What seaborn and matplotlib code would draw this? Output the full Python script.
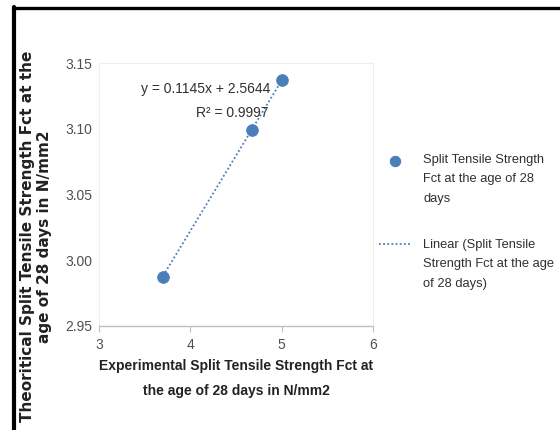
import numpy as np
import pandas as pd
import seaborn as sns
import matplotlib.pyplot as plt
from matplotlib.lines import Line2D

# data
exp_fct = [3.70, 4.67, 5.00]
theo_fct = [2.987, 3.099, 3.137]
slope = 0.1145
intercept = 2.5644
x_ticks = [3, 4, 5, 6]
y_ticks = [2.95, 3.00, 3.05, 3.10, 3.15]

df = pd.DataFrame({"exp": exp_fct, "theo": theo_fct})

sns.set_style("white")
plt.rcParams["font.family"] = ["Liberation Sans", "DejaVu Sans"]

fig = plt.figure(figsize=(5.6, 4.3), dpi=100)
ax = fig.add_axes([0.177, 0.242, 0.489, 0.611])

blue = "#4a7ebb"
# trendline over the data range
xt = np.array([min(exp_fct), max(exp_fct)])
ax.plot(xt, slope * xt + intercept, ls=(0, (1, 1.3)), color=blue, lw=1.3,
        label="Linear (Split Tensile\nStrength Fct at the age\nof 28 days)")
sns.scatterplot(data=df, x="exp", y="theo", ax=ax, color=blue, s=70,
                edgecolor=blue, zorder=3,
                label="Split Tensile Strength\nFct at the age of 28\ndays")

ax.set_xlim(3, 6)
ax.set_ylim(2.95, 3.15)
ax.set_xticks(x_ticks)
ax.set_yticks(y_ticks)
ax.set_xticklabels([str(t) for t in x_ticks])
ax.set_yticklabels(["%.2f" % t for t in y_ticks])
ax.tick_params(axis="both", labelsize=10, colors="#505050")
ax.tick_params(axis="x", length=4, color="#c0c0c0", direction="out",
               bottom=True, pad=5)
ax.tick_params(axis="y", length=0, pad=5)

for s in ["top", "right", "left"]:
    ax.spines[s].set_color("#eeeeee")
    ax.spines[s].set_linewidth(0.8)
ax.spines["bottom"].set_color("#bfbfbf")
ax.spines["bottom"].set_linewidth(1.0)

ax.text(3.46, 3.130, "y = 0.1145x + 2.5644", fontsize=10, color="#303030",
        ha="left", va="center")
ax.text(4.06, 3.112, "R² = 0.9997", fontsize=10, color="#303030",
        ha="left", va="center")

ax.set_xlabel("Experimental Split Tensile Strength Fct at\nthe age of 28 days in N/mm2",
              fontsize=10, fontweight="bold", color="#222222", labelpad=5,
              linespacing=2.0)
ax.set_ylabel("Theoritical Split Tensile Strength Fct at the\nage of 28 days in N/mm2",
              fontsize=11, fontweight="bold", color="#222222",
              family="DejaVu Sans", linespacing=1.15)
ax.yaxis.set_label_coords(-0.172, 0.34)

handles, labels = ax.get_legend_handles_labels()
leg = ax.legend(handles[::-1], labels[::-1], loc="center left",
                bbox_to_anchor=(1.0, 0.396), frameon=False, fontsize=9.3,
                handlelength=2.4, handletextpad=1.0, labelspacing=2.6,
                markerscale=0.9, borderaxespad=0.1)
for t in leg.get_texts():
    t.set_color("#303030")
    t.set_linespacing(1.85)

# Excel puts the legend symbol level with the first text line
dy = 14.4
for h in leg.legend_handles:
    if isinstance(h, Line2D):
        h.set_ydata(np.asarray(h.get_ydata(), dtype=float) + dy)
    else:
        offs = np.array(h.get_offsets(), dtype=float)
        offs[:, 1] += dy
        h.set_offsets(offs)

# black frame at top and left of the picture
fig.add_artist(Line2D([0.0235, 1.0], [0.981, 0.981], color="black", lw=2.4,
                      transform=fig.transFigure))
fig.add_artist(Line2D([0.0245, 0.0245], [0.0, 0.983], color="black", lw=3.0,
                      transform=fig.transFigure))

fig.savefig("out.png", dpi=100)
